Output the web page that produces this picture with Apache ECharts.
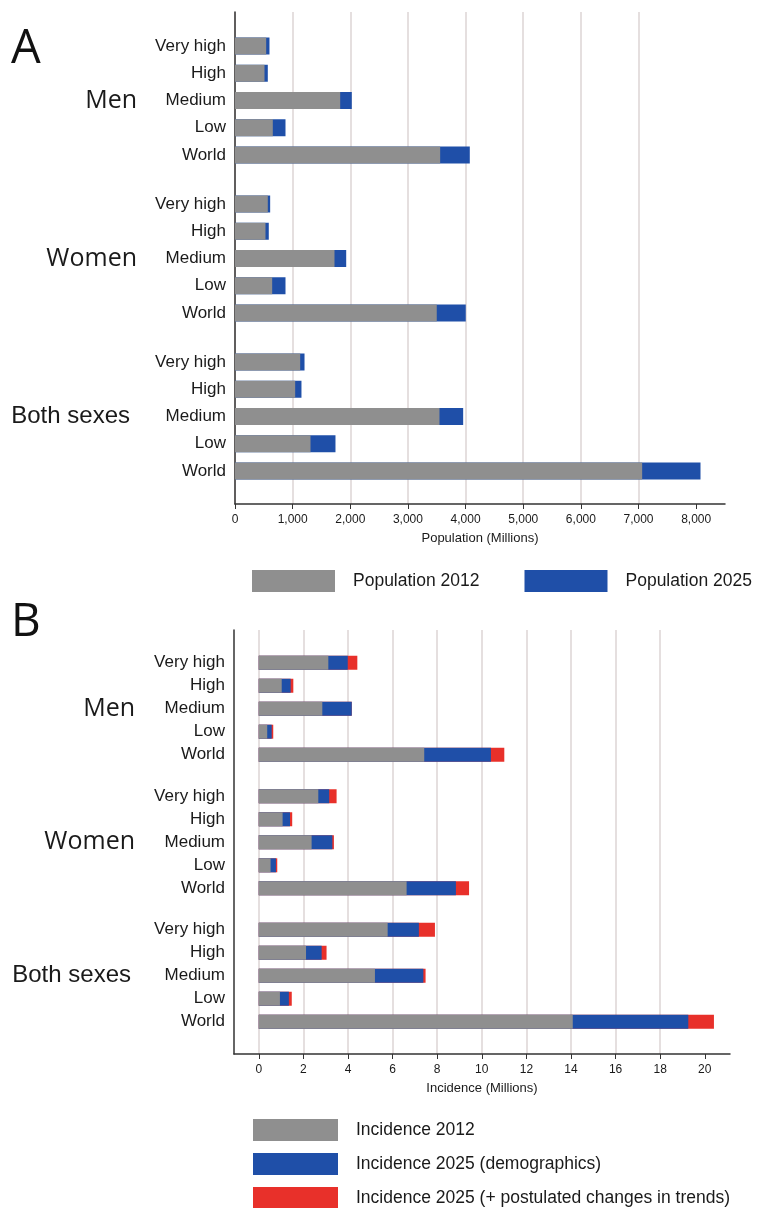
<!DOCTYPE html>
<html>
<head>
<meta charset="utf-8">
<script src="https://cdn.jsdelivr.net/npm/echarts@6/dist/echarts.min.js"></script>
<style>
html, body { margin: 0; padding: 0; background: #fff; }
#chart { width: 757px; height: 1208px; }
</style>
</head>
<body>
<div id="chart"></div>
<script>
var rowNames = ['Very high', 'High', 'Medium', 'Low', 'World'];
var groupNames = ['Men', 'Women', 'Both sexes'];

// A: population (millions)
var popTicks = [0, 1000, 2000, 3000, 4000, 5000, 6000, 7000, 8000];
var popMen2012 = [541, 512, 1825, 656, 3559];
var popMen2025 = [598, 569, 2026, 876, 4073];
var popWomen2012 = [569, 529, 1726, 645, 3500];
var popWomen2025 = [610, 586, 1929, 876, 4003];
var popBoth2012 = [1131, 1044, 3547, 1310, 7063];
var popBoth2025 = [1206, 1153, 3958, 1743, 8075];

// B: incidence (millions)
var incTicks = [0, 2, 4, 6, 8, 10, 12, 14, 16, 18, 20];
var incMen2012 = [3.12, 1.03, 2.85, 0.38, 7.42];
var incMenDemo = [3.99, 1.43, 4.17, 0.58, 10.41];
var incMenTrend = [4.42, 1.55, 4.17, 0.65, 11.01];
var incWomen2012 = [2.67, 1.07, 2.37, 0.53, 6.63];
var incWomenDemo = [3.16, 1.40, 3.30, 0.77, 8.84];
var incWomenTrend = [3.49, 1.50, 3.37, 0.83, 9.43];
var incBoth2012 = [5.78, 2.12, 5.21, 0.95, 14.08];
var incBothDemo = [7.18, 2.82, 7.38, 1.35, 19.26];
var incBothTrend = [7.90, 3.04, 7.48, 1.48, 20.41];

var GRAY = '#8f8f8f', BLUE = '#1f4fa8', RED = '#e8302a';
var INK = '#1a1a1a', GRID = '#ddd5d5', AXIS = '#333';

var grids = [], xAxes = [], yAxes = [], series = [];

function frame(left, top, width, height, min, max, ticks, name, fmt) {
	var gi = grids.length;
	grids.push({ left: left, top: top, width: width, height: height });
	xAxes.push({
		gridIndex: gi, type: 'value', min: min, max: max,
		name: name, nameLocation: 'middle', nameGap: 28,
		nameTextStyle: { fontSize: 13, color: INK, fontFamily: 'Liberation Sans' },
		axisLine: { show: true, onZero: false, lineStyle: { color: AXIS, width: 1.5 } },
		axisTick: { show: true, length: 5, customValues: ticks, lineStyle: { color: AXIS } },
		axisLabel: { customValues: ticks, fontSize: 12, color: INK, margin: 10, formatter: fmt },
		splitLine: { show: true, showMaxLine: false, lineStyle: { color: GRID, width: 1.5 } }
	});
	yAxes.push({
		gridIndex: gi, type: 'value', min: 0, max: 1,
		axisLine: { show: true, onZero: false, lineStyle: { color: AXIS, width: 1.5 } },
		axisTick: { show: false }, axisLabel: { show: false }, splitLine: { show: false }
	});
}

// one small grid per sex group; bars drawn longest first so shorter ones sit on top
function group(left, top, width, band, min, max, label, margin, pad, barW, layers) {
	var gi = grids.length;
	grids.push({ left: left, top: top, width: width, height: band * rowNames.length });
	var xi = xAxes.length;
	xAxes.push({ gridIndex: gi, type: 'value', min: min, max: max, show: false });
	var yi = yAxes.length;
	yAxes.push({
		gridIndex: gi, type: 'category', data: rowNames, inverse: true,
		axisLine: { show: false }, axisTick: { show: false }, splitLine: { show: false },
		axisLabel: { fontSize: 17, color: INK, margin: 9, interval: 0 }
	});
	yAxes.push({
		gridIndex: gi, type: 'category', inverse: true, position: 'left',
		data: rowNames.map(function(r, i) { return i == 2 ? label : ''; }),
		axisLine: { show: false }, axisTick: { show: false }, splitLine: { show: false },
		axisLabel: {
			interval: 0, margin: margin,
			formatter: function(v) {
				return v === 'Both sexes' ? '{b|' + v + '}' : '{g|' + v + '}';
			},
			rich: {
				g: { fontSize: 25, fontFamily: 'Open Sans', color: INK },
				b: { fontSize: 24, fontFamily: 'Liberation Sans', color: INK, padding: [0, pad, 0, 0] }
			}
		}
	});
	layers.forEach(function(l, k) {
		series.push({
			name: l[0], type: 'bar', xAxisIndex: xi, yAxisIndex: yi,
			data: l[1], barWidth: barW, barGap: k ? '-100%' : undefined,
			itemStyle: { color: l[2] }, emphasis: { disabled: true }
		});
	});
}

var commas = function(v) { return v.toLocaleString('en-US'); };

// panel A
frame(235, 12, 490, 492, 0, 8500, popTicks, 'Population (Millions)', commas);
var popData = [[popMen2012, popMen2025], [popWomen2012, popWomen2025], [popBoth2012, popBoth2025]];
var popTops = [32.4, 190.4, 348.4];
popData.forEach(function(d, g) {
	group(235, popTops[g], 490, 27.25, 0, 8500, groupNames[g], 98, 7, 17, [
		['Population 2025', d[1], BLUE],
		['Population 2012', d[0], GRAY]
	]);
});

// panel B
frame(234, 630, 496, 424, -1.11, 21.13, incTicks, 'Incidence (Millions)', null);
var incData = [
	[incMen2012, incMenDemo, incMenTrend],
	[incWomen2012, incWomenDemo, incWomenTrend],
	[incBoth2012, incBothDemo, incBothTrend]
];
var incTops = [651.2, 784.8, 918.2];
incData.forEach(function(d, g) {
	group(234, incTops[g], 496, 23, -1.11, 21.13, groupNames[g], 99, 4, 14, [
		['Incidence 2025 (+ postulated changes in trends)', d[2], RED],
		['Incidence 2025 (demographics)', d[1], BLUE],
		['Incidence 2012', d[0], GRAY]
	]);
});

function legend(left, top, names, w) {
	return {
		left: left, top: top, padding: 0, itemWidth: w, itemHeight: 22, itemGap: 45,
		icon: 'rect', selectedMode: false, data: names,
		itemStyle: { borderWidth: 0 },
		textStyle: { fontSize: 17.5, color: INK, padding: [0, 0, 0, 13] }
	};
}

var option = {
	animation: false,
	backgroundColor: '#fff',
	textStyle: { fontFamily: 'Liberation Sans' },
	graphic: [
		{ type: 'text', x: 11, y: 50, style: { text: 'A', fontSize: 47, fontFamily: 'Open Sans', fill: '#111', verticalAlign: 'middle' } },
		{ type: 'text', x: 11, y: 623, style: { text: 'B', fontSize: 46, fontFamily: 'Open Sans', fill: '#111', verticalAlign: 'middle' } }
	],
	grid: grids,
	xAxis: xAxes,
	yAxis: yAxes,
	legend: [
		legend(252, 570, ['Population 2012', 'Population 2025'], 83),
		legend(253, 1119, ['Incidence 2012'], 85),
		legend(253, 1153, ['Incidence 2025 (demographics)'], 85),
		legend(253, 1187, ['Incidence 2025 (+ postulated changes in trends)'], 85)
	],
	series: series
};

var chart = echarts.init(document.getElementById('chart'), null, { renderer: 'canvas' });
chart.setOption(option);
</script>
</body>
</html>
